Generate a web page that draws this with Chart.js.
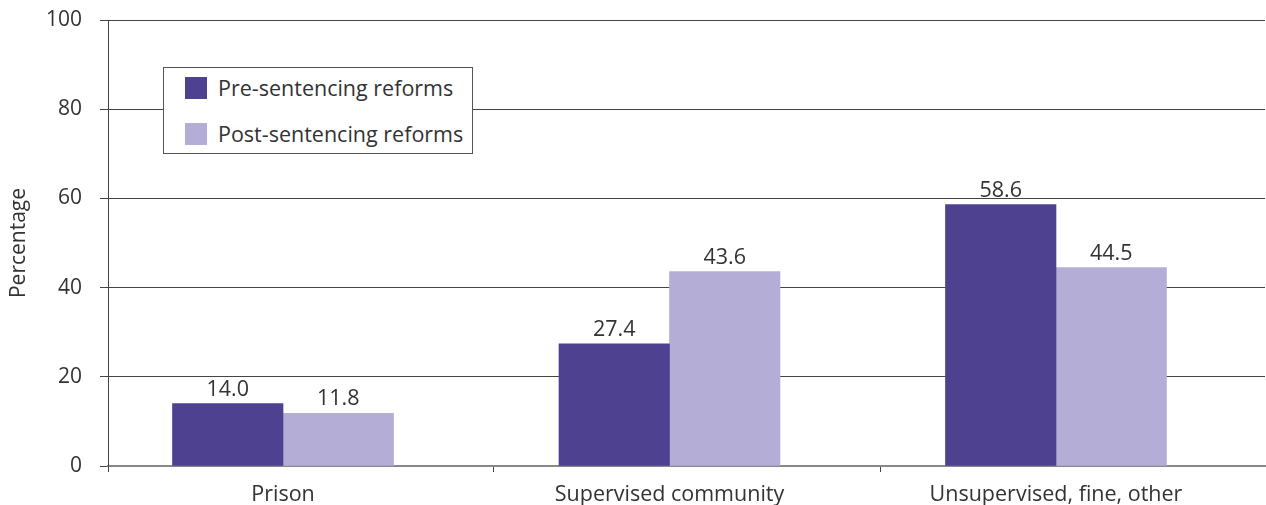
<!DOCTYPE html>
<html>
<head>
<meta charset="utf-8">
<script src="https://cdn.jsdelivr.net/npm/chart.js"></script>
<style>
  html, body { margin: 0; padding: 0; background: #ffffff; }
  #wrap { position: relative; width: 1266px; height: 505px; overflow: hidden; }
  #legend {
    position: absolute; left: 163px; top: 67px; width: 308px; height: 85px;
    border: 1px solid #555555; background: #ffffff;
    font-family: 'Open Sans', sans-serif; font-size: 21.5px; color: #333333;
  }
  .item { position: absolute; left: 21px; height: 22px; }
  .swatch { position: absolute; left: 0; top: 0; width: 22px; height: 22px; }
  .label { position: absolute; left: 33px; top: -3px; white-space: nowrap; line-height: 28px; }
</style>
</head>
<body>
<div id="wrap">
  <canvas id="chart" width="1266" height="505"></canvas>
  <div id="legend"></div>
</div>
<script>
const THEME = {
  pre: '#4e418f',
  post: '#b4aed6',
  text: '#333333',
  grid: '#444444',
  axis: '#888888'
};
const FONT = "'Open Sans', sans-serif";

const categories = ['Prison', 'Supervised community', 'Unsupervised, fine, other'];
const seriesNames = ['Pre-sentencing reforms', 'Post-sentencing reforms'];
const preReform = [14.0, 27.4, 58.6];
const postReform = [11.8, 43.6, 44.5];
const yTicks = [0, 20, 40, 60, 80, 100];

// category positions on the x scale, plus the boundary tick marks between groups
const xMin = -0.4528;
const xMax = 2.5408;
const xBoundaries = [xMin, 0.5459, 1.547];

// legend box
const legendEl = document.getElementById('legend');
[THEME.pre, THEME.post].forEach((color, i) => {
  const item = document.createElement('div');
  item.className = 'item';
  item.style.top = (9 + i * 46) + 'px';
  item.innerHTML = `<div class="swatch" style="background:${color}"></div><div class="label">${seriesNames[i]}</div>`;
  legendEl.appendChild(item);
});

// numbers above each bar
const valueLabels = {
  id: 'valueLabels',
  afterDatasetsDraw(chart) {
    const ctx = chart.ctx;
    ctx.save();
    ctx.font = `21.5px ${FONT}`;
    ctx.fillStyle = THEME.text;
    ctx.textAlign = 'center';
    ctx.textBaseline = 'alphabetic';
    chart.data.datasets.forEach((ds, di) => {
      chart.getDatasetMeta(di).data.forEach((bar, i) => {
        ctx.fillText(ds.data[i].y.toFixed(1), bar.x, bar.y - 8);
      });
    });
    ctx.restore();
  }
};

const toPoints = arr => arr.map((v, i) => ({ x: i, y: v }));

new Chart(document.getElementById('chart').getContext('2d'), {
  type: 'bar',
  data: {
    datasets: [
      { label: seriesNames[0], data: toPoints(preReform), backgroundColor: THEME.pre },
      { label: seriesNames[1], data: toPoints(postReform), backgroundColor: THEME.post }
    ]
  },
  options: {
    responsive: false,
    animation: false,
    barThickness: 110.5,
    layout: { padding: { top: 20, right: 1, left: 0, bottom: 0 } },
    plugins: {
      legend: { display: false },
      tooltip: { enabled: false }
    },
    scales: {
      x: {
        type: 'linear',
        min: xMin,
        max: xMax,
        offset: false,
        afterBuildTicks: scale => {
          const vals = [...xBoundaries, 0, 1, 2].sort((a, b) => a - b);
          scale.ticks = vals.map(v => ({ value: v }));
        },
        afterFit: scale => { scale.height = 39; },
        grid: {
          offset: false,
          drawOnChartArea: false,
          drawTicks: true,
          tickLength: 6,
          tickColor: c => (c.tick && Number.isInteger(c.tick.value)) ? 'rgba(0,0,0,0)' : THEME.grid
        },
        border: { display: true, color: THEME.axis, width: 2 },
        ticks: {
          autoSkip: false,
          maxRotation: 0,
          padding: 10,
          color: THEME.text,
          font: { family: FONT, size: 21.5 },
          callback: v => Number.isInteger(v) ? categories[v] : ''
        }
      },
      y: {
        min: 0,
        max: 100,
        afterBuildTicks: scale => { scale.ticks = yTicks.map(v => ({ value: v })); },
        afterFit: scale => {
          scale.width = 108;
          // the top/bottom tick labels may hang over the plot edges
          scale.paddingTop = 0;
          scale.paddingBottom = 0;
        },
        grid: {
          color: THEME.grid,
          lineWidth: 1,
          tickLength: 8
        },
        border: { display: true, color: THEME.grid },
        ticks: {
          padding: 18,
          color: THEME.text,
          font: { family: FONT, size: 21 }
        },
        title: {
          display: true,
          text: 'Percentage',
          color: THEME.text,
          font: { family: FONT, size: 21 },
          padding: { top: 6, bottom: 0 }
        }
      }
    }
  },
  plugins: [valueLabels]
});
</script>
</body>
</html>
